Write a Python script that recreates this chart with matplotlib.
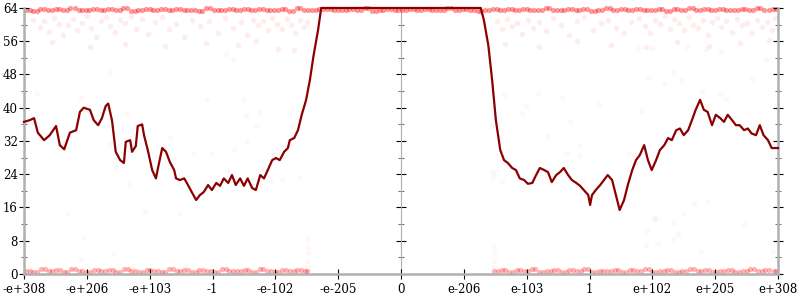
import numpy as np
import matplotlib.pyplot as plt

plt.rcParams['font.family'] = ['DejaVu Serif']

# x positions are in "tick units": -6 .. 6, one unit per labelled tick
tick_labels = ["-e+308", "-e+206", "-e+103", "-1", "-e-102", "-e-205", "0",
               "e-206", "e-103", "1", "e+102", "e+205", "e+308"]

# main line, left half
left_x = [-6.0, -5.91, -5.84, -5.78, -5.68, -5.59, -5.49, -5.43, -5.36, -5.27,
          -5.17, -5.11, -5.05, -4.95, -4.89, -4.82, -4.76, -4.70, -4.66, -4.60,
          -4.54, -4.47, -4.41, -4.38, -4.31, -4.28, -4.22, -4.19, -4.12, -4.09,
          -4.03, -3.96, -3.90, -3.87, -3.80, -3.74, -3.68, -3.61, -3.58, -3.52,
          -3.45, -3.39, -3.33, -3.26, -3.20, -3.14, -3.07, -3.01, -2.94, -2.88,
          -2.82, -2.75, -2.69, -2.63, -2.56, -2.50, -2.44, -2.37, -2.31, -2.24,
          -2.18, -2.12, -2.05, -1.99, -1.93, -1.86, -1.80, -1.77, -1.70, -1.64,
          -1.58, -1.51, -1.45, -1.39, -1.32, -1.27]
left_y = [36.6, 37, 37.5, 34, 32.2, 33.4, 35.6, 31, 30, 34,
          34.6, 39, 40, 39.5, 37, 35.8, 37.5, 40.4, 41, 37,
          29.4, 27.4, 26.7, 31.8, 32.2, 29.4, 30.8, 35.6, 36, 33.4,
          29.8, 25, 23, 25.3, 30.3, 29.4, 27, 25, 23, 22.6,
          23, 21.4, 19.7, 17.8, 19, 19.7, 21.4, 20.2, 21.9, 21.2,
          23, 21.9, 23.8, 21.4, 23, 21.2, 23, 20.7, 20.2, 23.8,
          23, 25, 27.4, 27.9, 27.4, 29.4, 30.3, 32.2, 32.7, 34.6,
          38.3, 41.9, 46.7, 52.7, 58.7, 64]

# main line, right half
right_x = [1.27, 1.32, 1.39, 1.45, 1.51, 1.58, 1.64, 1.70, 1.77, 1.83,
           1.89, 1.96, 2.02, 2.09, 2.15, 2.21, 2.28, 2.34, 2.40, 2.47,
           2.53, 2.59, 2.66, 2.72, 2.79, 2.85, 2.91, 2.98, 3.01, 3.04,
           3.10, 3.17, 3.23, 3.29, 3.36, 3.42, 3.48, 3.55, 3.61, 3.68,
           3.74, 3.80, 3.87, 3.93, 3.99, 4.06, 4.12, 4.19, 4.25, 4.31,
           4.38, 4.44, 4.50, 4.57, 4.63, 4.69, 4.76, 4.82, 4.88, 4.95,
           5.01, 5.08, 5.14, 5.20, 5.27, 5.33, 5.39, 5.46, 5.52, 5.58,
           5.65, 5.71, 5.77, 5.84, 5.90, 6.0]
right_y = [64, 61, 55, 46.7, 37, 29.8, 27.4, 26.7, 25.5, 25,
           23, 22.6, 21.7, 21.9, 23.8, 25.5, 25, 24.5, 22.1, 23.8,
           24.5, 25.5, 23.8, 22.6, 21.9, 21.2, 20.2, 19, 16.6, 19,
           20.2, 21.4, 22.6, 23.8, 22.6, 19, 15.4, 17.8, 21.4, 25,
           27.4, 28.6, 31, 27.4, 25, 27.4, 29.8, 31, 32.7, 32.2,
           34.6, 35, 33.4, 34.6, 37, 39.5, 41.9, 39.5, 39, 35.8,
           38.3, 37.5, 36.6, 38.3, 37, 35.8, 35.8, 34.6, 35, 33.8,
           33.4, 35.8, 33.4, 32.2, 30.3, 30.3]

# dense row of samples at the top (saturated), two interleaved passes
top_row_x = [-5.97, -5.85, -5.74, -5.62, -5.49, -5.38, -5.26, -5.13, -5.02, -4.9,
             -4.78, -4.66, -4.54, -4.42, -4.3, -4.18, -4.06, -3.94, -3.82, -3.7,
             -3.58, -3.46, -3.34, -3.22, -3.1, -2.98, -2.86, -2.74, -2.62, -2.5,
             -2.38, -2.26, -2.14, -2.02, -1.9, -1.78, -1.66, -1.54, -1.42, -1.3,
             -1.18, -1.06, -0.94, -0.82, -0.7, -0.58, -0.46, -0.34, -0.22, -0.1,
             0.02, 0.14, 0.26, 0.38, 0.5, 0.62, 0.74, 0.86, 0.98, 1.1,
             1.22, 1.34, 1.46, 1.58, 1.7, 1.82, 1.94, 2.06, 2.18, 2.3,
             2.42, 2.54, 2.66, 2.78, 2.9, 3.02, 3.14, 3.26, 3.38, 3.5,
             3.62, 3.74, 3.86, 3.98, 4.1, 4.22, 4.34, 4.46, 4.58, 4.7,
             4.82, 4.94, 5.06, 5.18, 5.3, 5.42, 5.54, 5.66, 5.78, 5.92]
top_row_x2 = [-5.91, -5.79, -5.68, -5.55, -5.44, -5.32, -5.19, -5.08, -4.96, -4.84,
              -4.72, -4.6, -4.48, -4.36, -4.24, -4.12, -4.0, -3.88, -3.76, -3.64,
              -3.52, -3.4, -3.28, -3.16, -3.04, -2.92, -2.8, -2.68, -2.56, -2.44,
              -2.32, -2.2, -2.08, -1.96, -1.84, -1.72, -1.6, -1.48, -1.36, -1.24,
              -1.12, -1.0, -0.88, -0.76, -0.64, -0.52, -0.4, -0.28, -0.16, -0.04,
              0.08, 0.2, 0.32, 0.44, 0.56, 0.68, 0.8, 0.92, 1.04, 1.16,
              1.28, 1.4, 1.52, 1.64, 1.76, 1.88, 2.0, 2.12, 2.24, 2.36,
              2.48, 2.6, 2.72, 2.84, 2.96, 3.08, 3.2, 3.32, 3.44, 3.56,
              3.68, 3.8, 3.92, 4.04, 4.16, 4.28, 4.4, 4.52, 4.64, 4.76,
              4.88, 5.0, 5.12, 5.24, 5.36, 5.48, 5.6, 5.72, 5.85, 5.97]
top_row_y = [63.6, 63.3, 63.8, 63.5, 63.7, 63.4, 63.9, 63.6, 63.5, 63.8,
             63.4, 63.7, 63.5, 63.9, 63.3, 63.6, 63.8, 63.5, 63.7, 63.4,
             63.8, 63.5, 63.6, 63.3, 63.9, 63.6, 63.4, 63.7, 63.5, 63.8,
             63.5, 63.8, 63.4, 63.6, 63.7, 63.3, 63.9, 63.5, 63.6, 63.8,
             63.7, 63.4, 63.6, 63.8, 63.5, 63.9, 63.3, 63.6, 63.7, 63.5,
             63.6, 63.8, 63.4, 63.7, 63.5, 63.6, 63.9, 63.4, 63.7, 63.5,
             63.3, 63.6, 63.8, 63.5, 63.7, 63.4, 63.8, 63.6, 63.5, 63.9,
             63.6, 63.4, 63.7, 63.5, 63.8, 63.3, 63.6, 63.9, 63.5, 63.7,
             63.4, 63.8, 63.6, 63.5, 63.7, 63.3, 63.8, 63.6, 63.9, 63.4,
             63.7, 63.5, 63.8, 63.6, 63.4, 63.7, 63.5, 63.9, 63.6, 63.8]

# dense row of samples at the bottom, two interleaved passes
bottom_row_x = [-5.97, -5.85, -5.73, -5.61, -5.49, -5.37, -5.25, -5.13, -5.01, -4.89,
                -4.77, -4.65, -4.53, -4.41, -4.29, -4.17, -4.05, -3.93, -3.81, -3.69,
                -3.57, -3.45, -3.33, -3.21, -3.09, -2.97, -2.85, -2.73, -2.61, -2.49,
                -2.37, -2.25, -2.13, -2.01, -1.89, -1.77, -1.65, -1.53,
                1.48, 1.6, 1.72, 1.84, 1.96, 2.08, 2.2, 2.32, 2.44, 2.56,
                2.68, 2.8, 2.92, 3.04, 3.16, 3.28, 3.4, 3.52, 3.64, 3.76,
                3.88, 4.0, 4.12, 4.24, 4.36, 4.48, 4.6, 4.72, 4.84, 4.96,
                5.08, 5.2, 5.32, 5.44, 5.56, 5.68, 5.8, 5.93]
bottom_row_x2 = [-5.91, -5.79, -5.67, -5.55, -5.43, -5.31, -5.19, -5.07, -4.95, -4.83,
                 -4.71, -4.59, -4.47, -4.35, -4.23, -4.11, -3.99, -3.87, -3.75, -3.63,
                 -3.51, -3.39, -3.27, -3.15, -3.03, -2.91, -2.79, -2.67, -2.55, -2.43,
                 -2.31, -2.19, -2.07, -1.95, -1.83, -1.71, -1.59, -1.49,
                 1.54, 1.66, 1.78, 1.9, 2.02, 2.14, 2.26, 2.38, 2.5, 2.62,
                 2.74, 2.86, 2.98, 3.1, 3.22, 3.34, 3.46, 3.58, 3.7, 3.82,
                 3.94, 4.06, 4.18, 4.3, 4.42, 4.54, 4.66, 4.78, 4.9, 5.02,
                 5.14, 5.26, 5.38, 5.5, 5.62, 5.74, 5.86, 5.97]
bottom_row_y = [0.8, 0.5, 1.1, 0.6, 0.9, 0.4, 1.2, 0.7, 0.5, 1.0,
                0.6, 0.9, 0.4, 1.1, 0.7, 0.5, 1.0, 0.8, 0.4, 1.2,
                0.6, 0.9, 0.5, 1.0, 0.7, 0.4, 1.1, 0.8, 0.6, 0.9,
                0.5, 1.2, 0.7, 0.4, 1.0, 0.6, 0.9, 0.7,
                0.7, 1.0, 0.5, 0.9, 0.6, 1.2, 0.4, 0.8, 1.0, 0.5,
                0.9, 0.6, 1.1, 0.4, 0.8, 0.7, 1.0, 0.5, 0.9, 0.6,
                1.2, 0.4, 0.8, 1.0, 0.5, 0.7, 1.1, 0.6, 0.9, 0.4,
                0.8, 1.0, 0.5, 0.7, 1.2, 0.6, 0.9, 0.8]

# faint samples just below the top
band_x = [-5.85, -5.75, -5.68, -5.6, -5.52, -5.45, -5.38, -5.3, -5.22, -5.15,
          -5.08, -5.0, -4.93, -4.85, -4.78, -4.7, -4.63, -4.55, -4.47, -4.4,
          -4.3, -4.22, -4.12, -4.02, -3.92, -3.8, -3.7, -3.58, -3.45, -3.33,
          -3.2, -3.05, -2.92, -2.8, -2.68, -2.55, -2.45, -2.35, -2.27, -2.2,
          -2.12, -2.05, -1.98, -1.9, -1.82, -1.75, -1.68, -1.6, -1.55, -1.5,
          -5.55, -4.95, -4.4, -3.75, -3.1, -2.6, -2.3, -1.95, -1.7,
          1.52, 1.6, 1.68, 1.76, 1.85, 1.93, 2.02, 2.1, 2.2, 2.3,
          2.42, 2.55, 2.68, 2.8, 2.92, 3.05, 3.18, 3.3, 3.42, 3.55,
          3.66, 3.78, 3.88, 3.97, 4.05, 4.12, 4.2, 4.28, 4.35, 4.42,
          4.5, 4.58, 4.65, 4.72, 4.8, 4.88, 4.95, 5.03, 5.1, 5.18,
          5.26, 5.34, 5.42, 5.5, 5.58, 5.66, 5.74, 5.82, 5.9, 5.96,
          1.65, 2.2, 2.8, 3.35, 3.9, 4.4, 4.9, 5.4, 5.85]
band_y = [61.2, 59.5, 60.8, 58.3, 61.5, 60.1, 57.6, 59.9, 61.3, 58.8,
          60.5, 62.0, 59.2, 57.1, 60.9, 61.8, 59.7, 58.2, 61.0, 60.3,
          62.1, 59.0, 61.4, 57.8, 60.6, 61.9, 58.9, 60.2, 56.9, 61.1,
          59.6, 60.8, 58.0, 61.6, 59.3, 60.7, 57.5, 61.2, 59.8, 60.9,
          58.6, 61.5, 60.2, 59.0, 61.3, 60.0, 57.9, 61.0, 59.4, 60.6,
          55.8, 54.6, 55.3, 54.9, 55.6, 55.0, 56.1, 54.2, 53.9,
          60.8, 58.9, 61.4, 59.7, 60.5, 57.8, 61.1, 59.3, 60.7, 58.4,
          61.6, 59.9, 57.5, 60.8, 61.9, 58.6, 60.3, 61.2, 59.1, 57.9,
          60.6, 61.5, 59.6, 58.1, 61.0, 60.1, 62.0, 59.0, 61.3, 60.4,
          58.7, 61.8, 60.0, 59.2, 61.1, 57.6, 60.6, 61.7, 59.5, 60.9,
          58.3, 61.4, 59.8, 60.5, 57.9, 61.0, 59.4, 60.7, 58.8, 61.6,
          55.4, 54.7, 56.0, 55.1, 54.5, 55.8, 54.9, 55.5, 56.3]

# sparse faint samples in the body of the chart
sparse_x = [-5.79, -5.09, -4.63, -5.3, -5.06, -5.09, -4.58, -4.07, -3.53, -4.27,
            -3.44, -3.09, -2.51, -2.47, -2.26, -2.31, -1.75, -2.45, -3.68, -4.36,
            -4.65, -3.31, -3.02, -2.66, -2.02, -2.77, -2.07, -1.89, -4.54, -4.33,
            -1.62, -2.79, -2.67, -1.48, -1.48, -1.48, -1.48, -1.48,
            4.03, 3.92, 3.9, 4.09, 4.33, 4.41, 4.35, 4.49, 4.66, 4.87,
            4.77, 5.46, 5.92, 1.64, 2.18, 2.56, 1.99, 1.93, 3.15, 3.84,
            2.69, 1.45, 2.32, 2.85, 2.64, 2.83, 3.63, 2.88, 1.46, 1.46,
            1.61, 4.04, 3.77, 3.99, 4.55, 4.85, 5.09, 5.81, 4.35, 3.93,
            4.19, 4.47, 5.59, 4.79, 5.08, 5.17, 1.48, 1.48, 1.48, 1.48]
sparse_y = [43.3, 42.3, 48.6, 14.7, 8.7, 3.6, 4.8, 15.2, 14.7, 2.0,
            2.0, 42.0, 42.0, 38.0, 39.0, 35.6, 35.6, 32.0, 32.7, 38.5,
            31.3, 29.0, 28.9, 30.0, 29.0, 25.0, 22.4, 22.6, 25.7, 21.7,
            23.0, 52.9, 51.7, 1.7, 3.1, 5.0, 6.5, 8.4,
            13.2, 10.3, 7.0, 7.5, 8.4, 9.6, 12.3, 14.7, 17.0, 17.3,
            5.3, 12.0, 5.3, 43.0, 43.5, 42.6, 40.4, 38.7, 41.0, 39.2,
            36.8, 35.6, 33.2, 31.0, 29.0, 28.4, 29.0, 22.6, 24.5, 23.3,
            22.4, 13.5, 54.4, 54.4, 54.6, 54.1, 53.4, 51.5, 48.6, 47.2,
            46.0, 46.7, 47.0, 44.0, 43.3, 42.0, 1.7, 3.1, 5.0, 6.5]

fig = plt.figure(figsize=(8, 3), dpi=100)
ax = fig.add_axes([0.03, 0.0867, 0.9425, 0.8867])

ax.scatter(band_x, band_y, s=16, color='red', alpha=0.07, linewidths=0)
ax.scatter(sparse_x, sparse_y, s=16, color='red', alpha=0.035, linewidths=0)
for xs in (top_row_x, top_row_x2):
    ax.scatter(xs, top_row_y, s=14, color='red', alpha=0.4, linewidths=0, clip_on=False)
for xs in (bottom_row_x, bottom_row_x2):
    ax.scatter(xs, bottom_row_y, s=14, color='red', alpha=0.3, linewidths=0, clip_on=False)

ax.plot(left_x + right_x, left_y + right_y, color='#8b0000', lw=1.6, clip_on=False, zorder=5)

ax.set_xlim(-6, 6)
ax.set_ylim(0, 64)

spine_gray = '#b0b0b0'
ax.spines['top'].set_visible(False)
for side in ['left', 'right', 'bottom']:
    ax.spines[side].set_color(spine_gray)
    ax.spines[side].set_linewidth(1.8)

ax.set_xticks(range(-6, 7))
ax.set_xticklabels(tick_labels)
ax.set_yticks(range(0, 65, 8))
ax.set_yticks(range(4, 64, 8), minor=True)

ax.tick_params(axis='x', direction='inout', length=6.5, width=0.8, color='black',
               labelsize=8.5, pad=3)
ax.tick_params(axis='y', which='major', direction='inout', length=7, width=0.8,
               color='black', labelsize=8.5, pad=1, right=True)
ax.tick_params(axis='y', which='minor', direction='inout', length=4, width=0.8,
               color='#777777', right=True)

# centre axis at x = 0
mid = ax.secondary_yaxis(0.5)
mid.spines['right'].set_color(spine_gray)
mid.spines['left'].set_color(spine_gray)
mid.spines['left'].set_linewidth(1.8)
mid.set_yticks(range(0, 65, 8))
mid.set_yticks(range(4, 64, 8), minor=True)
mid.tick_params(which='major', direction='inout', length=7, width=0.8, color='black',
                labelleft=False, labelright=False)
mid.tick_params(which='minor', direction='inout', length=4, width=0.8, color='#777777')

plt.savefig("out.png", dpi=100)
